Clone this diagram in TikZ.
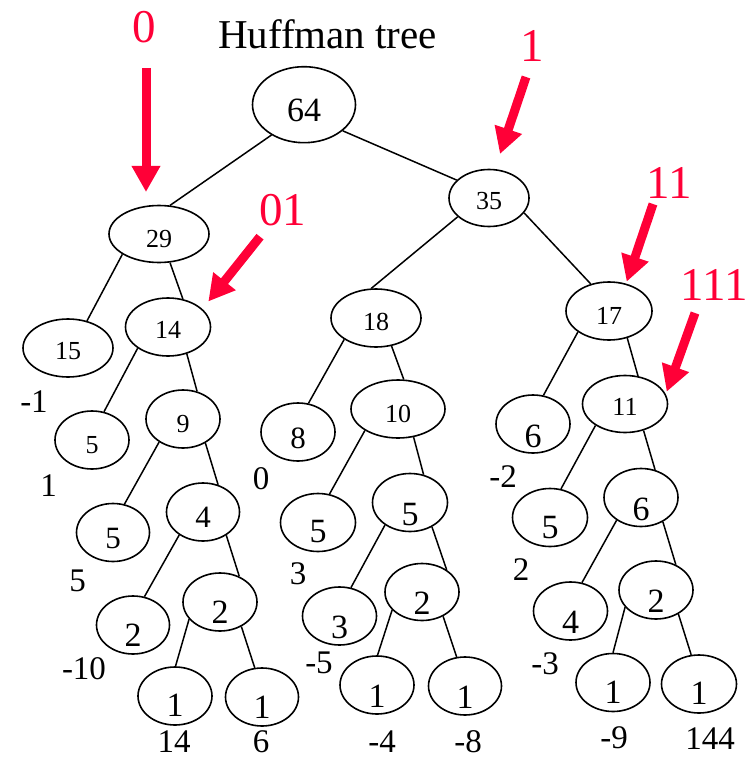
\documentclass[tikz,border=0pt]{standalone}
\usepackage{fontspec}
\setmainfont{Liberation Serif}
\usetikzlibrary{shapes.geometric,arrows.meta}
\definecolor{codered}{RGB}{255,0,55}
% lower a node's text so that its middle sits #1pt below the node centre
\newcommand{\low}[2]{\raisebox{\dimexpr -0.338em - #1pt\relax}[0pt][0pt]{#2}}
\begin{document}
\begin{tikzpicture}[x=1pt,y=-1pt,
  ell/.style={draw, ellipse, line width=1.6pt, inner sep=0pt,
              minimum width=74pt, minimum height=58pt},
  sm/.style={font=\fontsize{26}{26}\selectfont},
  md/.style={font=\fontsize{31}{31}\selectfont},
  lg/.style={font=\fontsize{34}{34}\selectfont},
  edge/.style={line width=1.5pt},
  weight/.style={inner sep=0pt, font=\fontsize{33}{33}\selectfont},
  code/.style={inner sep=0pt, text=codered, font=\fontsize{47}{47}\selectfont},
  codearrow/.style={draw=codered, line width=9pt,
                    -{Triangle[length=26pt,width=27pt]}},
]
\useasboundingbox (0,0) rectangle (748,762);

\node[inner sep=0pt, font=\fontsize{41}{41}\selectfont] (title) at (327.5,34) {Huffman tree};

% tree nodes
\node[ell, lg, minimum width=103pt, minimum height=76pt] (n64) at (304,104.7) {\low{5}{64}};
\node[ell, sm, minimum width=80pt, minimum height=57pt] (n35) at (489,198) {\low{3}{35}};
\node[ell, sm, minimum width=100pt, minimum height=57pt] (n29) at (159,234) {\low{4.5}{29}};

\node[ell, sm, minimum width=90pt] (n15) at (68,348) {\low{3}{15}};
\node[ell, sm, minimum width=85pt] (n14) at (168,327) {\low{3}{14}};
\node[ell, sm] (n5a) at (92,440) {\low{5}{5}};
\node[ell, sm] (n9) at (183,419) {\low{5}{9}};
\node[ell, md, minimum width=73pt] (n5b) at (113,532.5) {\low{5.5}{5}};
\node[ell, md, minimum width=73pt] (n4) at (203,512) {\low{5.5}{4}};
\node[ell, lg, minimum width=73pt] (n2a) at (133,625) {\low{10}{2}};
\node[ell, lg] (n2b) at (220,602) {\low{10.5}{2}};
\node[ell, lg] (n1a) at (175,696) {\low{9}{1}};
\node[ell, lg, minimum width=73pt] (n1b) at (262,697) {\low{9.7}{1}};

\node[ell, sm, minimum width=90pt] (n18) at (376,318) {\low{4}{18}};
\node[ell, md] (n8) at (298,432) {\low{6}{8}};
\node[ell, sm, minimum width=94pt] (n10) at (398,409) {\low{5}{10}};
\node[ell, lg, minimum width=75pt] (n5c) at (318,522.5) {\low{9}{5}};
\node[ell, lg, minimum width=75pt] (n5d) at (410,502.5) {\low{11.5}{5}};
\node[ell, lg] (n3) at (339.5,616) {\low{10.7}{3}};
\node[ell, lg, minimum height=57pt] (n2c) at (422,592) {\low{11}{2}};
\node[ell, lg] (n1c) at (377,685) {\low{11}{1}};
\node[ell, lg, minimum width=73pt] (n1d) at (465,686) {\low{10.7}{1}};

\node[ell, sm, minimum width=86pt] (n17) at (609,311) {\low{5}{17}};
\node[ell, lg] (n6a) at (533,424) {\low{12}{6}};
\node[ell, sm, minimum width=85pt, minimum height=57pt] (n11) at (625,404) {\low{3}{11}};
\node[ell, lg, minimum width=75pt] (n5e) at (550,517.5) {\low{10}{5}};
\node[ell, lg] (n6b) at (641,497.5) {\low{11.5}{6}};
\node[ell, lg] (n4b) at (570.5,611) {\low{10.7}{4}};
\node[ell, lg] (n2d) at (656,590) {\low{11}{2}};
\node[ell, lg] (n1e) at (613,682.5) {\low{9}{1}};
\node[ell, lg, minimum width=75pt] (n1f) at (699,684) {\low{9.3}{1}};

% branches
\draw[edge] (n64.223) -- (n29.69);
\draw[edge] (n64.326) -- (n35.151);
\draw[edge] (n29.209) -- (n15.55);
\draw[edge] (n29.291) -- (n14.62);
\draw[edge] (n14.215) -- (n5a.67);
\draw[edge] (n14.305) -- (n9.63);
\draw[edge] (n9.224) -- (n5b.68);
\draw[edge] (n9.313) -- (n4.61);
\draw[edge] (n4.224) -- (n2a.68);
\draw[edge] (n4.315) -- (n2b.53);
\draw[edge] (n2b.209) -- (n1a.89);
\draw[edge] (n2b.311) -- (n1b.104);
\draw[edge] (n35.211) -- (n18.99);
\draw[edge] (n35.337) -- (n17.124);
\draw[edge] (n18.214) -- (n8.70);
\draw[edge] (n18.299) -- (n10.79);
\draw[edge] (n10.213) -- (n5c.68);
\draw[edge] (n10.299) -- (n5d.64);
\draw[edge] (n5d.222) -- (n3.68);
\draw[edge] (n5d.312) -- (n2c.42);
\draw[edge] (n2c.211) -- (n1c.89);
\draw[edge] (n2c.311) -- (n1d.106);
\draw[edge] (n17.214) -- (n6a.70);
\draw[edge] (n17.304) -- (n11.65);
\draw[edge] (n11.216) -- (n5e.69);
\draw[edge] (n11.305) -- (n6b.63);
\draw[edge] (n6b.223) -- (n4b.68);
\draw[edge] (n6b.312) -- (n2d.52);
\draw[edge] (n2d.209) -- (n1e.90);
\draw[edge] (n2d.313) -- (n1f.105);

% leaf values
\node[weight] (w1) at (34,402) {-1};
\node[weight] (w2) at (48.7,485.7) {1};
\node[weight] (w3) at (77.5,581) {5};
\node[weight] (w4) at (84,669) {-10};
\node[weight] (w5) at (174,742) {14};
\node[weight] (w6) at (261,742) {6};
\node[weight] (w7) at (261,478.7) {0};
\node[weight] (w8) at (298,574) {3};
\node[weight] (w9) at (319,662.5) {-5};
\node[weight] (w10) at (382,742) {-4};
\node[weight] (w11) at (468,742) {-8};
\node[weight] (w12) at (503,477) {-2};
\node[weight] (w13) at (521,570) {2};
\node[weight] (w14) at (545,664) {-3};
\node[weight] (w15) at (614,737.5) {-9};
\node[weight] (w16) at (710,739) {144};

% code words with their arrows
\node[code] (c0) at (144,27.5) {0};
\coordinate (c0s) at (146,68);
\coordinate (c0e) at (146,192);
\draw[codearrow] (c0s) -- (c0e);

\node[code] (c01) at (282.5,210.5) {01};
\coordinate (c01s) at (260,236.7);
\coordinate (c01e) at (208.3,301.5);
\draw[codearrow] (c01s) -- (c01e);

\node[code] (c1) at (532,46) {1};
\coordinate (c1s) at (526,77);
\coordinate (c1e) at (500,154);
\draw[codearrow] (c1s) -- (c1e);

\node[code] (c11) at (669,182.5) {11};
\coordinate (c11s) at (653,204);
\coordinate (c11e) at (626.7,281.7);
\draw[codearrow] (c11s) -- (c11e);

\node[code] (c111) at (714,285) {111};
\coordinate (c111s) at (695,313);
\coordinate (c111e) at (666.7,391.7);
\draw[codearrow] (c111s) -- (c111e);
\end{tikzpicture}
\end{document}
